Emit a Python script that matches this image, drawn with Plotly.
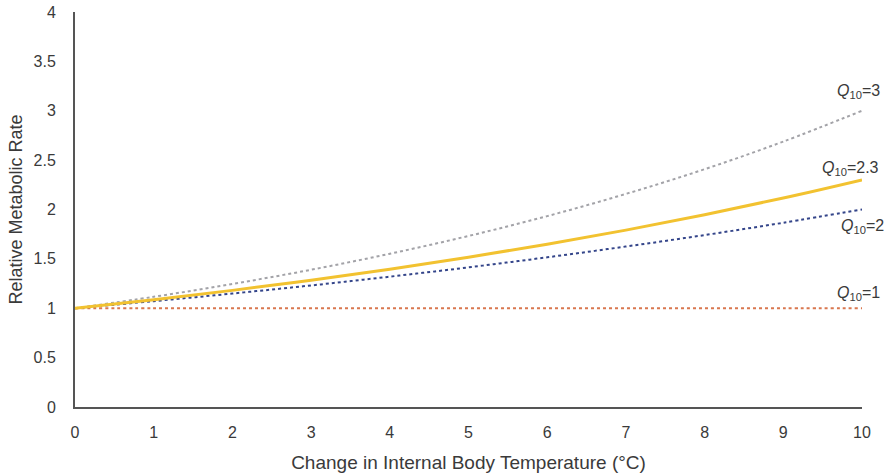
import plotly.graph_objects as go

temp = [0, 1, 2, 3, 4, 5, 6, 7, 8, 9, 10]
q3 = [1.0, 1.116, 1.246, 1.390, 1.552, 1.732, 1.933, 2.158, 2.408, 2.688, 3.0]
q23 = [1.0, 1.087, 1.181, 1.284, 1.395, 1.517, 1.648, 1.791, 1.947, 2.116, 2.3]
q2 = [1.0, 1.072, 1.149, 1.231, 1.320, 1.414, 1.516, 1.625, 1.741, 1.866, 2.0]
q1 = [1.0] * 11

labels = ["3", "2.3", "2", "1"]

FAM = "Liberation Sans, Arial, sans-serif"
TXT = "#3a3a3a"

fig = go.Figure()
fig.add_trace(go.Scatter(x=temp, y=q1, mode="lines", line=dict(color="#d9774f", width=2, dash="dot", shape="spline")))
fig.add_trace(go.Scatter(x=temp, y=q3, mode="lines", line=dict(color="#a3a3a8", width=2, dash="dot", shape="spline")))
fig.add_trace(go.Scatter(x=temp, y=q2, mode="lines", line=dict(color="#34458a", width=2, dash="dot", shape="spline")))
fig.add_trace(go.Scatter(x=temp, y=q23, mode="lines", line=dict(color="#f2c230", width=3, shape="spline")))

ann_pos = [(9.95, 3.19), (9.85, 2.42), (10.0, 1.83), (9.95, 1.15)]
for lab, (ax, ay) in zip(labels, ann_pos):
    fig.add_annotation(x=ax, y=ay, xref="x", yref="y", showarrow=False,
                       text="<i>Q</i><sub>10</sub>=" + lab,
                       font=dict(family=FAM, size=16, color=TXT), xanchor="center")

fig.update_layout(
    width=895, height=473,
    margin=dict(l=75, r=33, t=12, b=66, autoexpand=False),
    plot_bgcolor="white", paper_bgcolor="white",
    showlegend=False,
    font=dict(family=FAM, size=16, color=TXT),
    xaxis=dict(range=[0, 10], tickvals=temp, showgrid=False, zeroline=False,
               showline=True, linecolor="#555555", linewidth=2, ticks="",
               ticklabelstandoff=10, automargin=False,
               title=dict(text="Change in Internal Body Temperature (°C)",
                          font=dict(family=FAM, size=19, color=TXT), standoff=16),
               tickfont=dict(family=FAM, size=16, color=TXT)),
    yaxis=dict(range=[0, 4], tickvals=[0, 0.5, 1, 1.5, 2, 2.5, 3, 3.5, 4], showgrid=False, zeroline=False,
               showline=True, linecolor="#555555", linewidth=2, ticks="",
               ticklabelstandoff=14, automargin=False,
               title=dict(text="Relative Metabolic Rate",
                          font=dict(family=FAM, size=18, color=TXT), standoff=6),
               tickfont=dict(family=FAM, size=16, color=TXT)),
)
fig.write_html("out.html", config={"displayModeBar": False},
               post_script="document.body.style.margin='0';window.dispatchEvent(new Event('resize'));")
